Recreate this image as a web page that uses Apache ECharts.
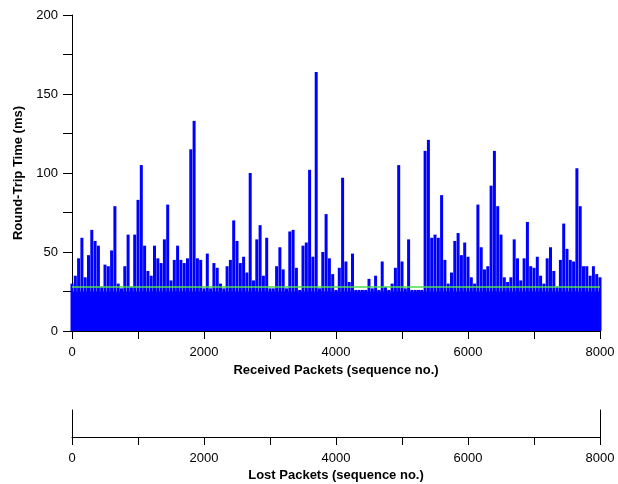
<!DOCTYPE html>
<html>
<head>
<meta charset="utf-8">
<script src="https://cdn.jsdelivr.net/npm/echarts@6/dist/echarts.min.js"></script>
<style>
html, body { margin: 0; padding: 0; background: #fff; }
#chart { width: 618px; height: 484px; }
</style>
</head>
<body>
<div id="chart"></div>
<script>
// sequence numbers (one sample every 50 packets) and peak RTT, ms
var seqNo = [];
for (var s = 0; s <= 8000; s += 50) seqNo.push(s);
var rttPeak = [
  30, 35, 46, 59, 34, 48, 64, 57, 54, 28,
  42, 41, 51, 79, 30, 27, 41, 61, 28, 61,
  83, 105, 54, 38, 35, 54, 46, 43, 58, 80,
  32, 45, 54, 45, 43, 46, 115, 133, 46, 45,
  27, 49, 27, 43, 40, 30, 27, 41, 45, 70,
  57, 43, 47, 37, 100, 32, 58, 67, 35, 59,
  27, 27, 41, 53, 39, 27, 63, 64, 40, 26,
  54, 56, 102, 47, 164, 27, 50, 74, 46, 36,
  26, 40, 97, 44, 31, 49, 26, 26, 26, 26,
  33, 27, 35, 26, 44, 28, 26, 30, 40, 105,
  44, 27, 58, 26, 26, 26, 26, 114, 121, 59,
  61, 59, 86, 45, 30, 37, 57, 62, 48, 56,
  47, 34, 30, 80, 53, 39, 41, 92, 114, 79,
  61, 34, 31, 34, 58, 46, 32, 46, 69, 41,
  40, 47, 35, 30, 46, 53, 38, 28, 45, 68,
  52, 45, 44, 103, 79, 41, 41, 35, 41, 36,
  34
];
// floor of the RTT band (dense fill) and the green reference level
var rttFloorSeq = [0, 8000];
var rttFloor = [25, 25];
var rttRef = [27.8, 27.8];
// lost packets: none
var lostSeq = [];

var xTicks = [0, 2000, 4000, 6000, 8000];
var yTicks = [0, 50, 100, 150, 200];

var chart = echarts.init(document.getElementById('chart'));
var font = 'Liberation Sans, Arial, Helvetica, sans-serif';

function xAxisCfg(grid, title) {
  return {
    type: 'value', gridIndex: grid, min: 0, max: 8000, interval: 1000,
    name: title, nameLocation: 'middle', nameGap: 32,
    nameTextStyle: { color: '#000', fontSize: 13, fontWeight: 'bold', fontFamily: font },
    axisLine: { show: true, onZero: false, lineStyle: { color: '#000', width: 1 } },
    axisTick: { show: true, length: 8, lineStyle: { color: '#000' } },
    axisLabel: {
      color: '#000', fontSize: 13, fontFamily: font, margin: 15,
      formatter: function (v) { return xTicks.indexOf(v) >= 0 ? String(v) : ''; }
    },
    splitLine: { show: false }
  };
}

var option = {
  animation: false,
  backgroundColor: '#fff',
  grid: [
    { left: 72, right: 18, top: 15, height: 316 },
    { left: 72, right: 18, top: 410, height: 27 }
  ],
  xAxis: [
    xAxisCfg(0, 'Received Packets (sequence no.)'),
    xAxisCfg(1, 'Lost Packets (sequence no.)')
  ],
  yAxis: [
    {
      type: 'value', gridIndex: 0, min: 0, max: 200, interval: 25,
      name: 'Round-Trip Time (ms)', nameLocation: 'middle', nameGap: 47,
      nameTextStyle: { color: '#000', fontSize: 13, fontWeight: 'bold', fontFamily: font },
      axisLine: { show: true, lineStyle: { color: '#000', width: 1 } },
      axisTick: { show: true, length: 9, lineStyle: { color: '#000' } },
      axisLabel: {
        color: '#000', fontSize: 13, fontFamily: font, margin: 14,
        formatter: function (v) { return yTicks.indexOf(v) >= 0 ? String(v) : ''; }
      },
      splitLine: { show: false }
    },
    {
      type: 'value', gridIndex: 1, min: 0, max: 1, position: 'left',
      axisLine: { show: true, lineStyle: { color: '#000' } },
      axisTick: { show: false }, axisLabel: { show: false }, splitLine: { show: false }
    },
    {
      type: 'value', gridIndex: 1, min: 0, max: 1, position: 'right',
      axisLine: { show: true, lineStyle: { color: '#000' } },
      axisTick: { show: false }, axisLabel: { show: false }, splitLine: { show: false }
    }
  ],
  series: [
    {
      type: 'line', xAxisIndex: 0, yAxisIndex: 0,
      data: rttFloorSeq.map(function (x, i) { return [x, rttFloor[i]]; }),
      symbol: 'none', lineStyle: { width: 0 },
      areaStyle: { color: '#0000ff', opacity: 1 }, z: 1
    },
    {
      type: 'bar', xAxisIndex: 0, yAxisIndex: 0,
      data: seqNo.map(function (x, i) { return [x, rttPeak[i]]; }),
      barWidth: 3, itemStyle: { color: '#0000ff' }, z: 2
    },
    {
      type: 'line', xAxisIndex: 0, yAxisIndex: 0,
      data: rttFloorSeq.map(function (x, i) { return [x, rttRef[i]]; }),
      symbol: 'none', lineStyle: { color: '#4ede4e', width: 1.5 }, z: 5
    },
    {
      type: 'scatter', xAxisIndex: 1, yAxisIndex: 1,
      data: lostSeq.map(function (x) { return [x, 0.5]; }),
      symbolSize: 4, itemStyle: { color: '#ff0000' }
    }
  ]
};
chart.setOption(option);
</script>
</body>
</html>
